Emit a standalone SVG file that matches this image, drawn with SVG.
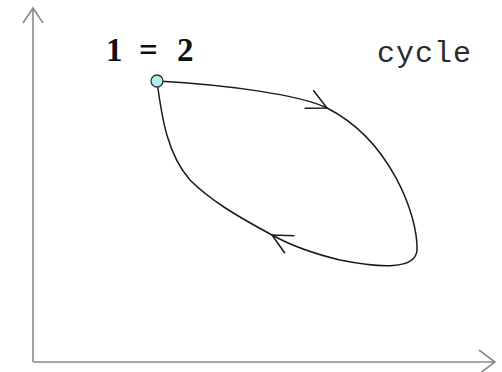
<svg xmlns="http://www.w3.org/2000/svg" width="502" height="372" viewBox="0 0 502 372">
<style>
.axis{fill:none;stroke:#8a8a8a;stroke-width:1.6}
.curve{fill:none;stroke:#1a1a1a;stroke-width:1.5}
.lbl{font-family:"Liberation Serif",serif;font-weight:bold;font-size:33px;fill:#111}
.mono{font-family:"Liberation Mono",monospace;font-size:30px;letter-spacing:1px;fill:#2a2a2a}
</style>
<defs>
<marker id="ah" viewBox="-22 -12 24 24" markerWidth="24" markerHeight="24" refX="0" refY="0" orient="auto" markerUnits="userSpaceOnUse">
<path d="M-20,-10 L0,0 L-20,10" fill="none" stroke="#1a1a1a" stroke-width="1.5"/>
</marker>
</defs>
<g id="axes">
<path class="axis" d="M33,362 L33,8 M23,23 L33,8 L43,23"/>
<path class="axis" d="M33,362 L495,362 M479,350 L495,362 L479,374"/>
</g>
<g id="connectors">
<path class="curve" d="M157,81 C230,85 300,95 327,108" marker-end="url(#ah)"/>
<path class="curve" d="M327,108 C390,140 418,215 417,250 C416,270 380,268 340,260 C315,254 290,245 272,235"/>
<path class="curve" d="M390,267 C330,257 300,250 272,235" marker-end="url(#ah)" stroke-opacity="0"/>
<path class="curve" d="M272,235 C235,215 210,200 190,180 C168,155 162,120 157,81"/>
</g>
<g id="node-12">
<circle cx="157" cy="81" r="6" fill="#aeeeee" stroke="#333" stroke-width="1.3"/>
<text class="lbl" y="61"><tspan x="106">1</tspan><tspan x="139">=</tspan><tspan x="177">2</tspan></text>
</g>
<g id="label-cycle">
<text class="mono" x="377" y="62">cycle</text>
</g>
</svg>
